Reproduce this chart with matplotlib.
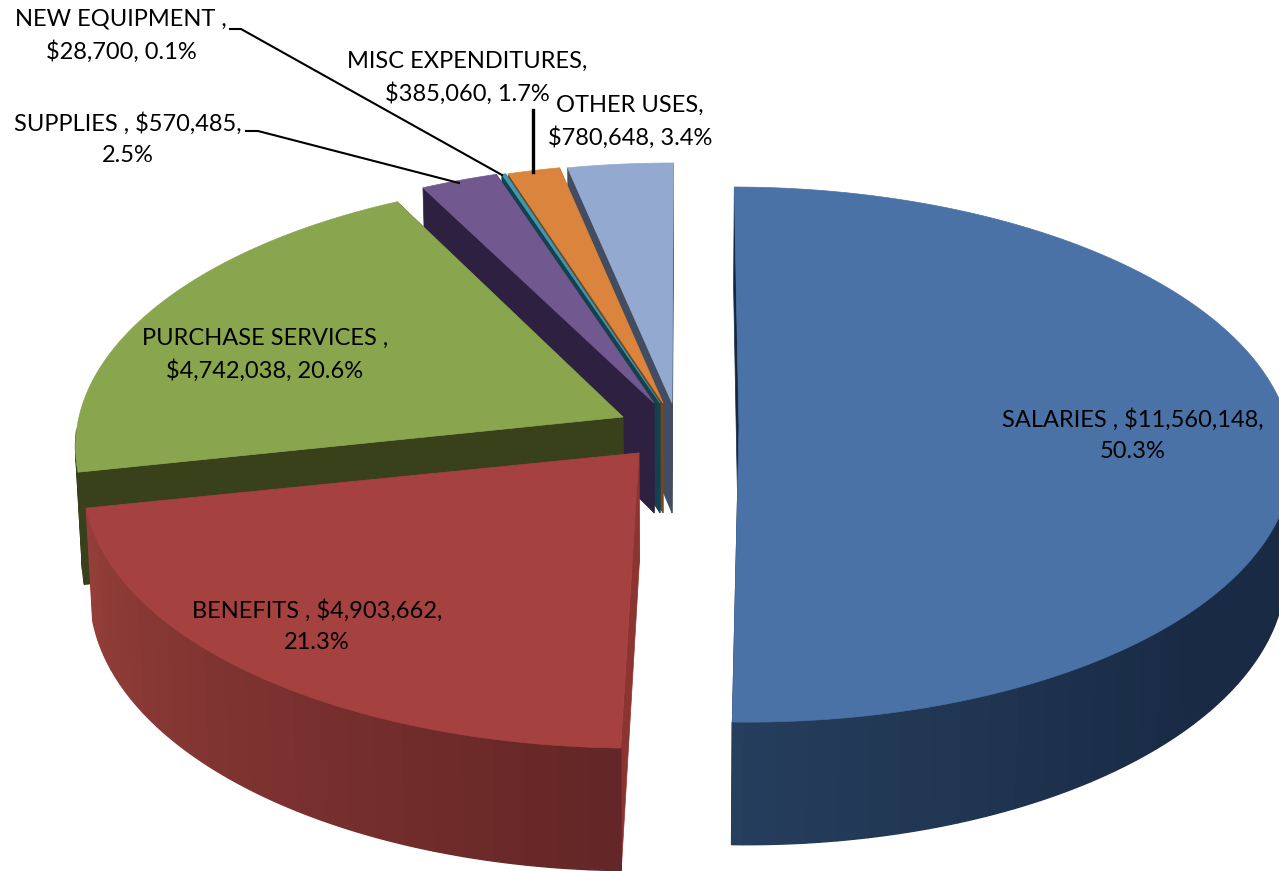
#! /usr/bin/env python
# -*- coding: utf-8 -*-

import numpy as np
import matplotlib
matplotlib.use('Agg')
import matplotlib.pyplot as plt
from matplotlib.patches import Polygon

plt.rcParams['font.family'] = ['Lato', 'DejaVu Sans']

# data, clockwise from 12 o'clock
names = ['SALARIES', 'BENEFITS', 'PURCHASE SERVICES', 'SUPPLIES',
         'NEW EQUIPMENT', 'MISC EXPENDITURES', 'OTHER USES']
values = [11560148, 4903662, 4742038, 570485, 28700, 385060, 780648]
label_text = ['SALARIES , $11,560,148,\n50.3%',
              'BENEFITS , $4,903,662,\n21.3%',
              'PURCHASE SERVICES ,\n$4,742,038, 20.6%',
              'SUPPLIES , $570,485,\n2.5%',
              'NEW EQUIPMENT ,\n$28,700, 0.1%',
              'MISC EXPENDITURES,\n$385,060, 1.7%',
              'OTHER USES,\n$780,648, 3.4%']

# look of each slice
top_colors = ['#4A72A6', '#A5423F', '#89A54E', '#71588F', '#4198AF', '#DB843D', '#93A9CF']
cut_colors = ['#14283F', '#8C3430', '#39411B', '#2E2040', '#14414F', '#78461A', '#424D62']
wall_light = ['#263F5E', '#963F3A', '#39411B', '#2E2040', '#14414F', '#78461A', '#424D62']
wall_dark = ['#182A44', '#642626', '#39411B', '#2E2040', '#14414F', '#78461A', '#424D62']
apex_x = [739, 639, 623, 654, 660, 663, 672]
apex_y = [427, 453, 417, 403, 403, 403, 403]
radius_x = [550, 552, 544, 550, 550, 550, 550]
label_x = [1133, 317, 265, 128, 121, 467, 630]
label_y = [435, 626, 355, 139, 36, 78, 122]

# projection of the tilted pie
RY, DEPTH = 264.7, 110.0
PERSP, VIEW_X, SQUEEZE = 0.103, 670.0, 0.011
ROT = 0.2


def project(i, theta, drop=0.0):
    # theta in degrees, clockwise from the top of the pie
    t = np.radians(theta)
    xx = np.sin(t)
    yy = -np.cos(t)
    s = 1.0 / (1.0 - PERSP * yy)
    px = VIEW_X + (apex_x[i] - VIEW_X + radius_x[i] * xx) * s
    py = apex_y[i] + RY * yy * s
    if drop:
        px = VIEW_X + (px - VIEW_X) * (1 - SQUEEZE)
        py = py + drop * s
    return px, py


def lerp_color(c1, c2, f):
    a = np.array(matplotlib.colors.to_rgb(c1))
    b = np.array(matplotlib.colors.to_rgb(c2))
    return tuple(a + (b - a) * f)


fig = plt.figure(figsize=(12.79, 8.71), dpi=100)
ax = fig.add_axes([0, 0, 1, 1])
ax.set_xlim(0, 1279)
ax.set_ylim(871, 0)
ax.axis('off')

fractions = np.array(values) / float(sum(values))
ends = ROT + np.cumsum(fractions) * 360.0
starts = np.concatenate(([ROT], ends[:-1]))

# back slices first, so that the front ones cover them
for i in range(len(values) - 1, -1, -1):
    a0, a1 = starts[i], ends[i]
    n = max(int(a1 - a0) * 2, 4)
    th = np.linspace(a0, a1, n + 1)
    x_top, y_top = project(i, th)
    x_bot, y_bot = project(i, th, DEPTH)
    apex_bot = (VIEW_X + (apex_x[i] - VIEW_X) * (1 - SQUEEZE), apex_y[i] + DEPTH)

    # the two cut faces
    for e in (0, -1):
        pts = [(apex_x[i], apex_y[i]), (x_top[e], y_top[e]), (x_bot[e], y_bot[e]), apex_bot]
        ax.add_patch(Polygon(pts, closed=True, fc=cut_colors[i], ec=cut_colors[i], lw=0.5))

    # outer wall, in bands like the shaded original, only the part facing us
    step = 6
    for j in range(0, n, step):
        k = min(j + step, n)
        if th[k] <= 92 or th[k] >= 268:
            continue
        # darker towards the right hand side
        if i == 0:
            f = min(1.0, (1 - j / float(n)) * 3.5)
        else:
            f = 1 - j / float(n)
        col = lerp_color(wall_light[i], wall_dark[i], f)
        pts = np.concatenate((np.c_[x_top[j:k + 1], y_top[j:k + 1]],
                              np.c_[x_bot[j:k + 1], y_bot[j:k + 1]][::-1]))
        ax.add_patch(Polygon(pts, closed=True, fc=col, ec=col, lw=1.0))

    # top face
    pts = np.concatenate(([(apex_x[i], apex_y[i])], np.c_[x_top, y_top]))
    ax.add_patch(Polygon(pts, closed=True, fc=top_colors[i], ec=top_colors[i], lw=0.5))

# leader lines
ax.plot([230, 241, 502], [29, 29, 175], color='black', lw=1.5)
ax.plot([246, 258, 459], [131, 131, 183], color='black', lw=1.5)
ax.plot([533, 533], [172, 110], color='black', lw=2.4)

for i in range(len(values)):
    ax.text(label_x[i], label_y[i], label_text[i], ha='center', va='center',
            fontsize=17, color='black', linespacing=1.58)

fig.savefig('out.png', dpi=100)
